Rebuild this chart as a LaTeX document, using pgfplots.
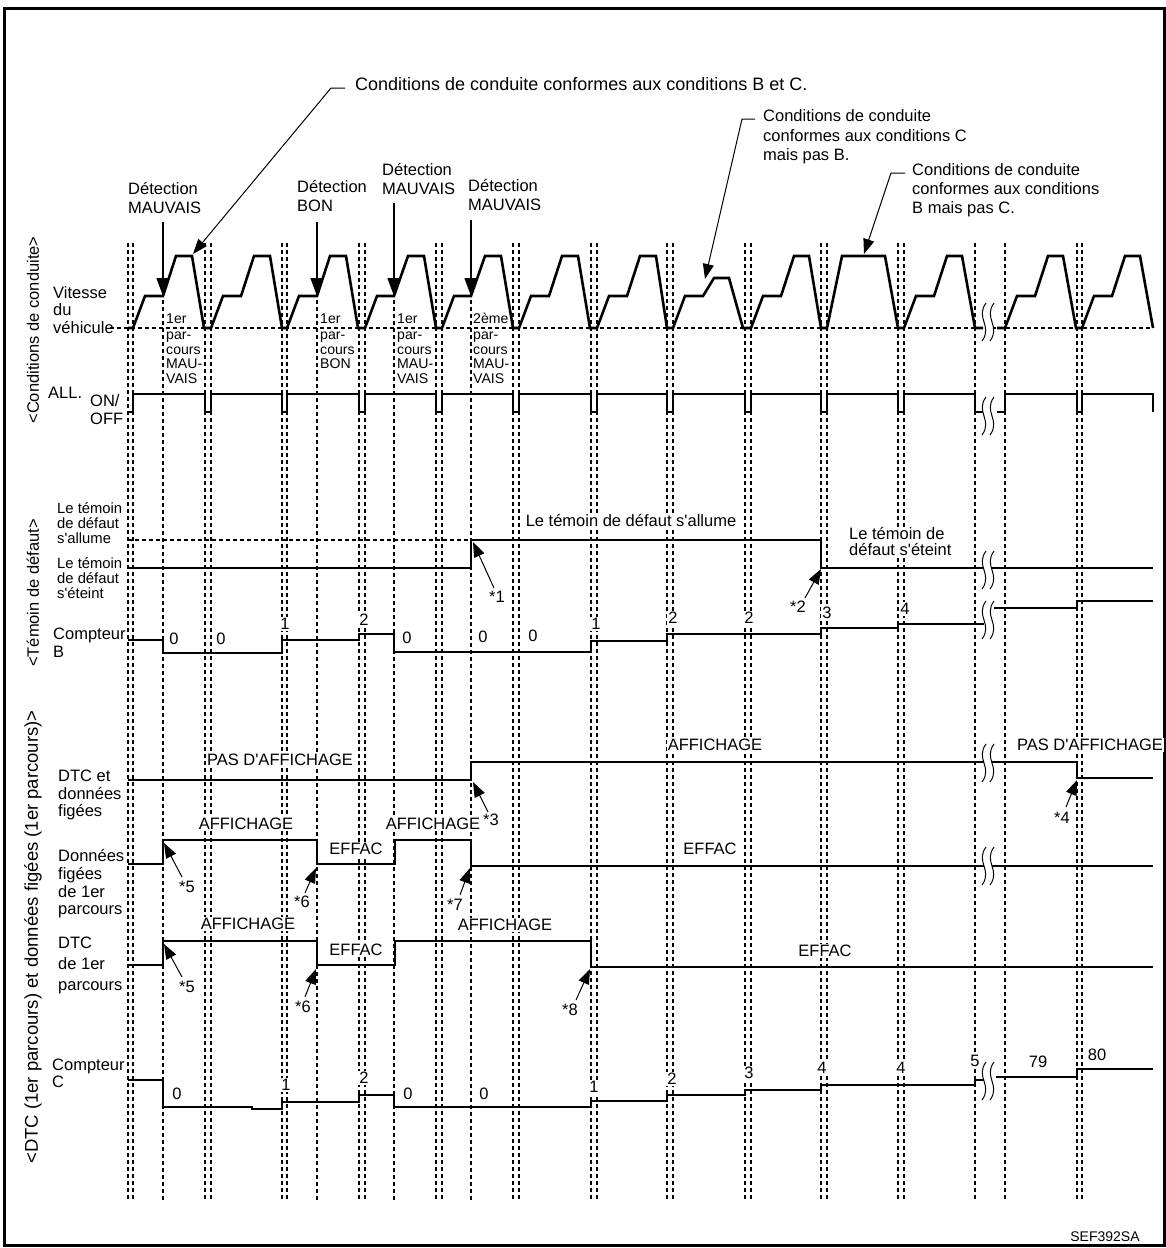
\documentclass[border=0pt]{standalone}
\usepackage{pgfplots}
\pgfplotsset{compat=1.18}
\usepackage{fontspec}
\setmainfont{Liberation Sans}
\usetikzlibrary{arrows.meta}
\newcommand{\fs}{\fontsize{16.5}{18}\selectfont}
\newcommand{\fsm}{\fontsize{14.8}{16}\selectfont}
\newcommand{\fss}{\fontsize{14.1}{15}\selectfont}
\newcommand{\q}{\textquotesingle}
% left-aligned text line, no fill
\newcommand{\TL}[3]{\node[anchor=mid west,inner sep=0pt,font=\fs] at (axis cs:#1,#2) {#3};}
% left-aligned, white background
\newcommand{\TW}[3]{\node[anchor=mid west,inner sep=1pt,fill=white,font=\fs] at (axis cs:#1,#2) {#3};}
% centered, white background
\newcommand{\TC}[3]{\node[anchor=mid,inner sep=1pt,fill=white,font=\fs] at (axis cs:#1,#2) {#3};}
\newcommand{\TM}[3]{\node[anchor=mid west,inner sep=0pt,font=\fsm] at (axis cs:#1,#2) {#3};}
\newcommand{\TS}[3]{\node[anchor=mid west,inner sep=0pt,font=\fss] at (axis cs:#1,#2) {#3};}
\tikzset{
  sq/.pic={
    \fill[white] (5pt,0pt) .. controls (-6pt,-15pt) and (12pt,-23pt) .. (1pt,-38pt) -- (9pt,-38pt) .. controls (20pt,-23pt) and (2pt,-15pt) .. (13pt,0pt) -- cycle;
    \draw[line width=1pt] (5pt,0pt) .. controls (-6pt,-15pt) and (12pt,-23pt) .. (1pt,-38pt);
    \draw[line width=1pt] (13pt,0pt) .. controls (2pt,-15pt) and (20pt,-23pt) .. (9pt,-38pt);
  },
  sarr/.style={-{Triangle[length=15pt,width=11pt]}, line width=1pt},
  darr/.style={-{Triangle[length=18pt,width=13pt]}, line width=1.3pt},
}
\begin{document}
\begin{tikzpicture}
\begin{axis}[
  scale only axis, width=1166pt, height=1248pt,
  xmin=0, xmax=1166, ymin=0, ymax=1248, y dir=reverse,
  hide axis, clip=false, unbounded coords=jump,
  sig/.style={line width=2.6pt, black, mark=none},
  dsh/.style={line width=1.1pt, black, mark=none, dash pattern=on 4pt off 3pt},
]
\path (axis cs:0,0) rectangle (axis cs:1166,1248);
% frame
\draw[line width=3pt] (axis cs:4,8) rectangle (axis cs:1164,1245);

% ---------- vertical dashed lines ----------
\addplot[dsh] coordinates {
 (128,243)(128,1200) (128,nan) (133,243)(133,1200) (133,nan)
 (205,243)(205,1200) (205,nan) (211,243)(211,1200) (211,nan)
 (282,243)(282,1200) (282,nan) (287,243)(287,1200) (287,nan)
 (359,243)(359,1200) (359,nan) (365,243)(365,1200) (365,nan)
 (436,243)(436,1200) (436,nan) (442,243)(442,1200) (442,nan)
 (513,243)(513,1200) (513,nan) (519,243)(519,1200) (519,nan)
 (591,243)(591,1200) (591,nan) (597,243)(597,1200) (597,nan)
 (667,243)(667,1200) (667,nan) (673,243)(673,1200) (673,nan)
 (745,243)(745,1200) (745,nan) (751,243)(751,1200) (751,nan)
 (821,243)(821,1200) (821,nan) (827,243)(827,1200) (827,nan)
 (898,243)(898,1200) (898,nan) (904,243)(904,1200) (904,nan)
 (975,243)(975,1200) (975,nan) (1005,243)(1005,1200) (1005,nan)
 (1077,243)(1077,1200) (1077,nan) (1082,243)(1082,1200) (1082,nan)
 (163,300)(163,1200) (163,nan) (317,300)(317,1200) (317,nan)
 (394,300)(394,1200) (394,nan) (471,300)(471,1200)
};
% baseline of vehicle speed
\addplot[dsh] coordinates {(110,328)(1152,328)};
% MIL "on" reference level
\addplot[dsh] coordinates {(128,540)(471,540)};

% ---------- vehicle speed ----------
\addplot[sig] coordinates {
 (128,328)(133,328)
 (145,296)(163,296)(176,256)(192,256)(204,328)(211,328)
 (223,296)(241,296)(254,256)(270,256)(282,328)(287,328)
 (299,296)(317,296)(330,256)(346,256)(358,328)(365,328)
 (377,296)(394,296)(408,256)(424,256)(436,328)(442,328)
 (454,296)(471,296)(485,256)(501,256)(513,328)(519,328)
 (531,296)(549,296)(562,256)(578,256)(590,328)(597,328)
 (609,296)(627,296)(640,256)(656,256)(667,328)(673,328)
 (685,296)(703,296)(714,278)(729,278)(743,328)(751,328)
 (763,296)(781,296)(794,256)(809,256)(821,328)(827,328)
 (842,256)(885,256)(898,328)(904,328)
 (916,296)(934,296)(947,256)(962,256)(975,328)(983,328)
 (983,nan)
 (997,328)(1005,328)
 (1017,296)(1035,296)(1048,256)(1063,256)(1076,328)(1082,328)
 (1094,296)(1112,296)(1125,256)(1140,256)(1153,328)
};
% ---------- ignition ON/OFF ----------
\addplot[sig] coordinates {
 (128,412)(133,412)(133,394)
 (205,394)(205,412)(211,412)(211,394)
 (282,394)(282,412)(287,412)(287,394)
 (359,394)(359,412)(365,412)(365,394)
 (436,394)(436,412)(442,412)(442,394)
 (513,394)(513,412)(519,412)(519,394)
 (591,394)(591,412)(597,412)(597,394)
 (667,394)(667,412)(673,412)(673,394)
 (745,394)(745,412)(751,412)(751,394)
 (821,394)(821,412)(827,412)(827,394)
 (898,394)(898,412)(904,412)(904,394)
 (975,394)(975,412)(983,412)
 (983,nan)
 (997,412)(1005,412)(1005,394)
 (1077,394)(1077,412)(1082,412)(1082,394)
 (1153,394)(1153,412)
};
% ---------- MIL ----------
\addplot[sig] coordinates {(128,568)(471,568)(471,540)(821,540)(821,568)(1153,568)};
% ---------- counter B ----------
\addplot[sig] coordinates {
 (128,640)(163,640)(163,653)(282,653)(282,640)(359,640)(359,634)(394,634)(394,652)
 (591,652)(591,641)(667,641)(667,634)(821,634)(821,628)(898,628)(898,624)(984,624)
 (984,nan)
 (994,608)(1077,608)(1077,601)(1153,601)
};
% ---------- DTC and freeze frame ----------
\addplot[sig] coordinates {(128,780)(471,780)(471,762)(1077,762)(1077,778)(1153,778)};
% ---------- 1st trip freeze frame ----------
\addplot[sig] coordinates {(128,864)(163,864)(163,840)(317,840)(317,864)(395,864)(395,840)(471,840)(471,866)(1153,866)};
% ---------- 1st trip DTC ----------
\addplot[sig] coordinates {(128,965)(163,965)(163,941)(317,941)(317,965)(395,965)(395,941)(591,941)(591,967)(1153,967)};
% ---------- counter C ----------
\addplot[sig] coordinates {
 (128,1080)(163,1080)(163,1107)(252,1107)(252,1109)(282,1109)(282,1102)(359,1102)(359,1095)(394,1095)(394,1107)
 (591,1107)(591,1101)(667,1101)(667,1095)(745,1095)(745,1090)(821,1090)(821,1085)(975,1085)(975,1080)(984,1080)
 (984,nan)
 (996,1077)(1077,1077)(1077,1069)(1153,1069)
};

% ---------- break marks ----------
\path (axis cs:981,303) pic {sq};
\path (axis cs:981,397) pic {sq};
\path (axis cs:981,551) pic {sq};
\path (axis cs:981,601) pic {sq};
\path (axis cs:981,744) pic {sq};
\path (axis cs:981,847) pic {sq};
\path (axis cs:981,1062) pic {sq};

% ---------- rotated section titles ----------
\node[rotate=90,font=\fs,inner sep=0pt] at (axis cs:33,330) {<Conditions de conduite>};
\node[rotate=90,font=\fs,inner sep=0pt] at (axis cs:33,593) {<Témoin de défaut>};
\node[rotate=90,font=\fontsize{18.5}{20}\selectfont,inner sep=0pt] at (axis cs:33,937) {<DTC (1er parcours) et données figées (1er parcours)>};

% ---------- row labels ----------
\TL{53}{296}{Vitesse}
\TL{53}{313}{du}
\TL{53}{331}{véhicule}
\TL{48}{396}{ALL.}
\TL{90}{404}{ON/}
\TL{90}{422}{OFF}
\TM{57}{511}{Le témoin}
\TM{57}{526}{de défaut}
\TM{57}{541}{s\q allume}
\TM{57}{566}{Le témoin}
\TM{57}{581}{de défaut}
\TM{57}{596}{s\q éteint}
\TL{53}{637}{Compteur}
\TL{53}{655}{B}
\TL{58}{779}{DTC et}
\TL{58}{797}{données}
\TL{58}{814}{figées}
\TL{58}{859}{Données}
\TL{58}{877}{figées}
\TL{58}{895}{de 1er}
\TL{58}{912}{parcours}
\TL{58}{946}{DTC}
\TL{58}{967}{de 1er}
\TL{58}{988}{parcours}
\TL{52}{1068}{Compteur}
\TL{52}{1085}{C}

% ---------- top callouts ----------
\node[anchor=mid west,inner sep=0pt,font=\fontsize{18}{20}\selectfont] at (axis cs:355,88) {Conditions de conduite conformes aux conditions B et C.};
\draw[sarr] (axis cs:345,88) -- (axis cs:331,88) -- (axis cs:193,254);
\TL{763}{119}{Conditions de conduite}
\TL{763}{139}{conformes aux conditions C}
\TL{763}{158}{mais pas B.}
\draw[sarr] (axis cs:755,119) -- (axis cs:742,119) -- (axis cs:705,279);
\TL{912}{173}{Conditions de conduite}
\TL{912}{192}{conformes aux conditions}
\TL{912}{211}{B mais pas C.}
\draw[sarr] (axis cs:905,173) -- (axis cs:891,173) -- (axis cs:864,254);

% detection labels
\TL{128}{192}{Détection}
\TL{128}{211}{MAUVAIS}
\draw[darr] (axis cs:163,222) -- (axis cs:163,296);
\TL{297}{190}{Détection}
\TL{297}{209}{BON}
\draw[darr] (axis cs:317,222) -- (axis cs:317,296);
\TL{382}{173}{Détection}
\TL{382}{192}{MAUVAIS}
\draw[darr] (axis cs:394,203) -- (axis cs:394,296);
\TL{468}{189}{Détection}
\TL{468}{208}{MAUVAIS}
\draw[darr] (axis cs:471,220) -- (axis cs:471,296);

% trip labels
\TS{166}{321}{1er}\TS{166}{337}{par-}\TS{166}{352}{cours}\TS{166}{366}{MAU-}\TS{166}{381}{VAIS}
\TS{320}{321}{1er}\TS{320}{337}{par-}\TS{320}{352}{cours}\TS{320}{366}{BON}
\TS{397}{321}{1er}\TS{397}{337}{par-}\TS{397}{352}{cours}\TS{397}{366}{MAU-}\TS{397}{381}{VAIS}
\TS{473}{321}{2ème}\TS{473}{337}{par-}\TS{473}{352}{cours}\TS{473}{366}{MAU-}\TS{473}{381}{VAIS}

% MIL texts
\TC{631}{524}{Le témoin de défaut s\q allume}
\TW{848}{537}{Le témoin de}
\TW{848}{553}{défaut s\q éteint}
\draw[sarr] (axis cs:494,588) -- (axis cs:473,542);
\node[font=\fs,inner sep=0pt] at (axis cs:497,597) {*1};
\draw[sarr] (axis cs:805,598) -- (axis cs:821,569);
\node[font=\fs,inner sep=0pt] at (axis cs:798,607) {*2};

% counter B numbers
\TC{174}{642}{0}\TC{221}{642}{0}\TC{285}{627}{1}\TC{364}{623}{2}\TC{407}{641}{0}
\TC{483}{640}{0}\TC{533}{639}{0}\TC{596}{627}{1}\TC{673}{621}{2}\TC{749}{621}{2}
\TC{827}{616}{3}\TC{905}{612}{4}

% DTC texts
\TC{280}{763}{PAS D\q AFFICHAGE}
\TC{715}{748}{AFFICHAGE}
\TC{1090}{748}{PAS D\q AFFICHAGE}
\draw[sarr] (axis cs:488,812) -- (axis cs:473,782);
\node[font=\fs,inner sep=0pt] at (axis cs:491,820) {*3};
\draw[sarr] (axis cs:1066,807) -- (axis cs:1077,780);
\node[font=\fs,inner sep=0pt] at (axis cs:1062,818) {*4};

\TC{246}{827}{AFFICHAGE}
\TC{356}{852}{EFFAC}
\TC{433}{827}{AFFICHAGE}
\TC{710}{852}{EFFAC}
\draw[sarr] (axis cs:182,877) -- (axis cs:164,843);
\node[font=\fs,inner sep=0pt] at (axis cs:187,887) {*5};
\draw[sarr] (axis cs:305,893) -- (axis cs:316,868);
\node[font=\fs,inner sep=0pt] at (axis cs:302,902) {*6};
\draw[sarr] (axis cs:460,895) -- (axis cs:470,868);
\node[font=\fs,inner sep=0pt] at (axis cs:455,905) {*7};

\TC{248}{927}{AFFICHAGE}
\TC{356}{953}{EFFAC}
\TC{505}{928}{AFFICHAGE}
\TC{825}{954}{EFFAC}
\draw[sarr] (axis cs:182,977) -- (axis cs:164,944);
\node[font=\fs,inner sep=0pt] at (axis cs:187,987) {*5};
\draw[sarr] (axis cs:305,997) -- (axis cs:316,969);
\node[font=\fs,inner sep=0pt] at (axis cs:303,1007) {*6};
\draw[sarr] (axis cs:576,1000) -- (axis cs:590,969);
\node[font=\fs,inner sep=0pt] at (axis cs:570,1010) {*8};

% counter C numbers
\TC{177}{1097}{0}\TC{286}{1088}{1}\TC{364}{1081}{2}\TC{408}{1097}{0}\TC{484}{1097}{0}
\TC{594}{1090}{1}\TC{672}{1082}{2}\TC{749}{1076}{3}\TC{822}{1071}{4}\TC{901}{1071}{4}
\TC{975}{1064}{5}\TC{1038}{1065}{79}\TC{1097}{1058}{80}

\node[font=\fontsize{14}{16}\selectfont,inner sep=0pt] at (axis cs:1105,1237) {SEF392SA};
\end{axis}
\end{tikzpicture}
\end{document}
